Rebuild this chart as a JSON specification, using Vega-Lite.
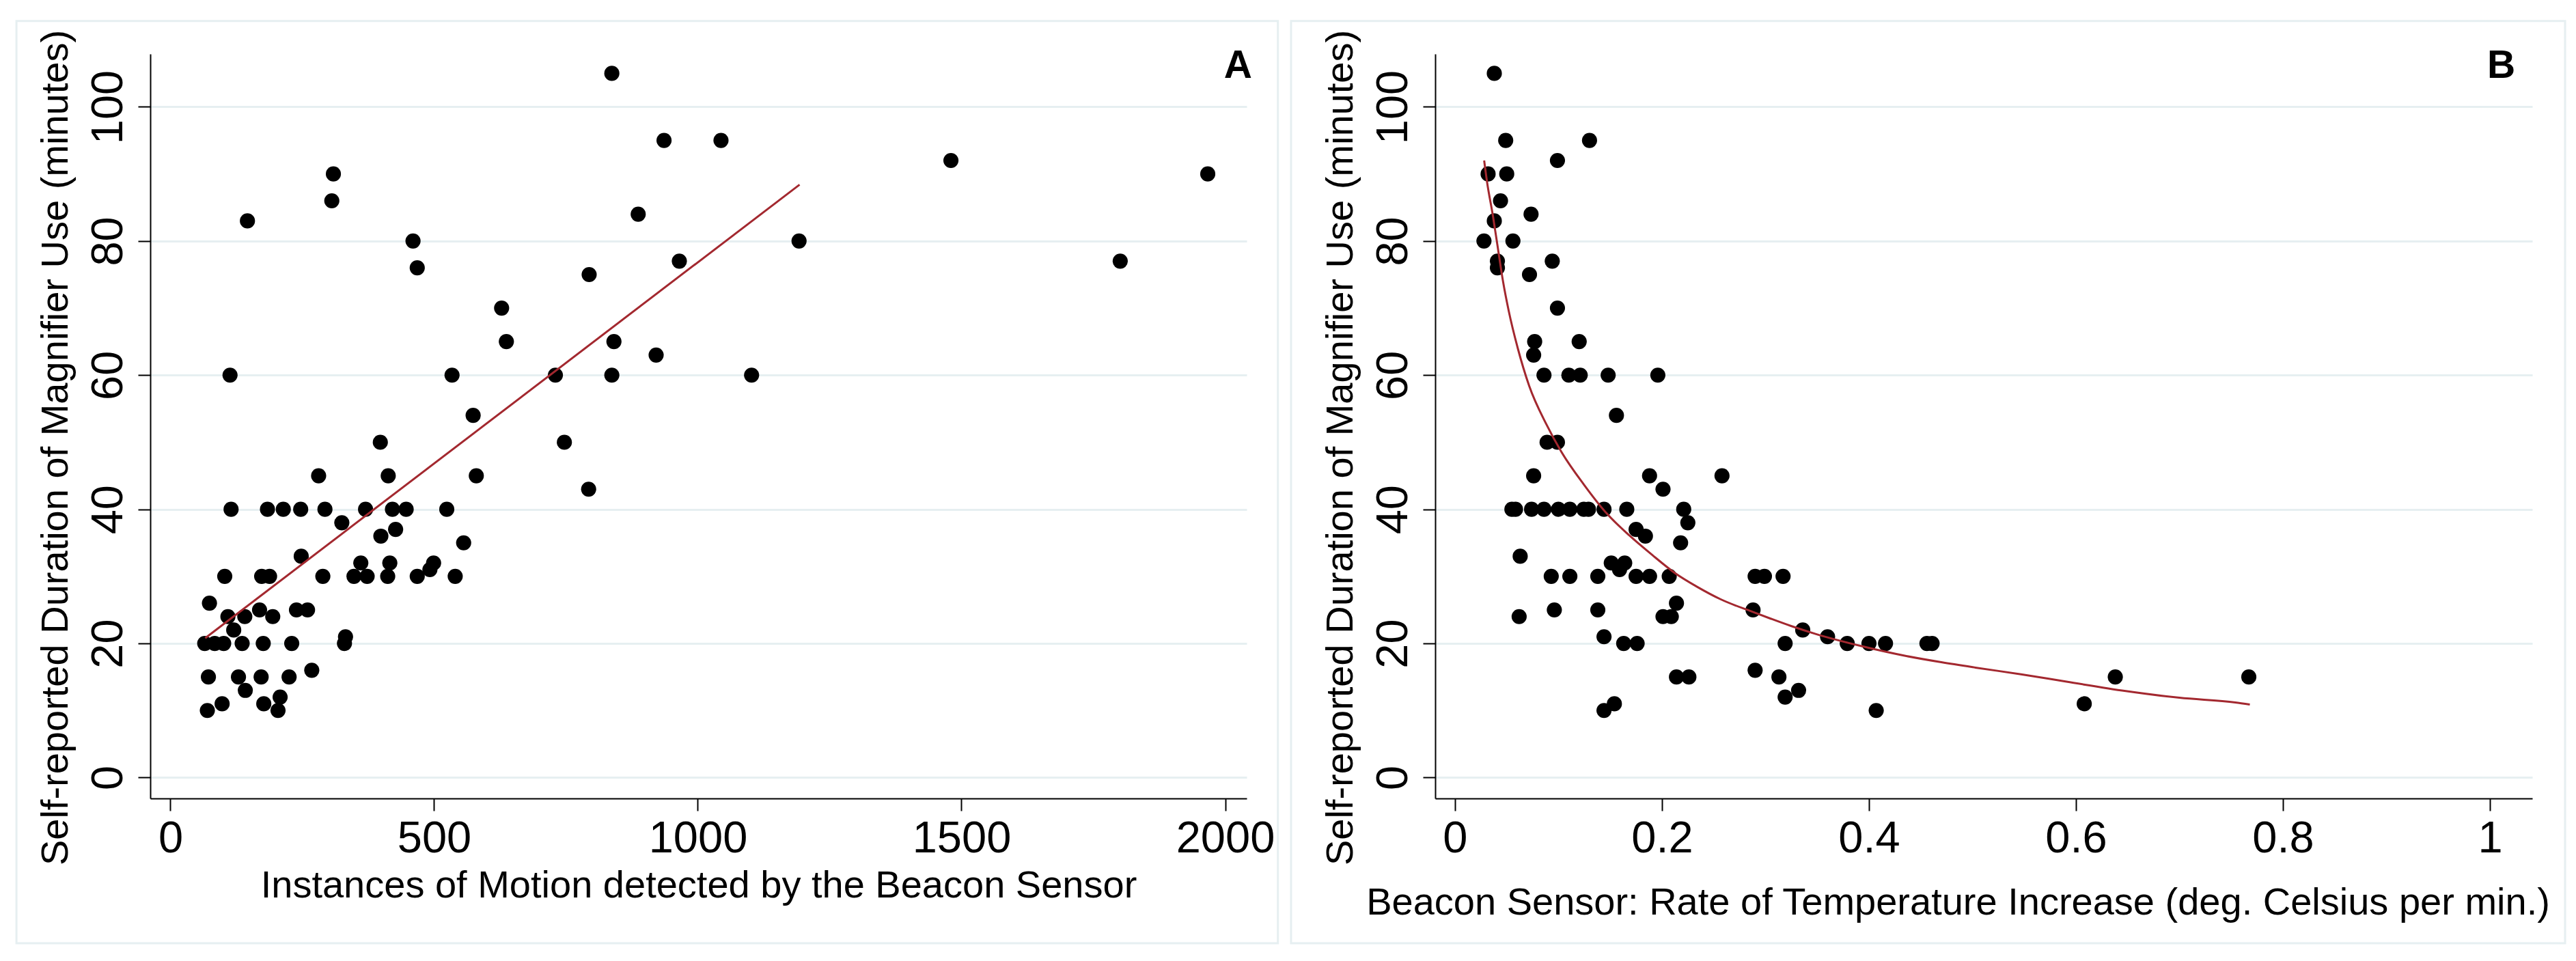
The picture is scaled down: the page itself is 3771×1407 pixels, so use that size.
{
  "$schema": "https://vega.github.io/schema/vega-lite/v6.json",
  "background": "white",
  "padding": {"left": 22, "top": 29, "right": 0, "bottom": 0},
  "autosize": {"type": "pad"},
  "spacing": 15,
  "config": {
    "view": {"stroke": null},
    "font": "Liberation Sans",
    "axis": {
      "domainColor": "black",
      "domainWidth": 2,
      "tickColor": "black",
      "tickWidth": 2,
      "tickSize": 18,
      "labelFont": "Liberation Sans",
      "labelFontSize": 65,
      "labelColor": "black",
      "titleFont": "Liberation Sans",
      "titleFontSize": 56,
      "titleFontWeight": "normal",
      "titleColor": "black",
      "gridColor": "#e6eff1",
      "gridWidth": 3
    },
    "axisX": {
      "grid": false,
      "labelAngle": 0,
      "labelPadding": 9,
      "labelBaseline": "top",
      "titleBaseline": "alphabetic",
      "titleY": 144
    },
    "axisY": {
      "grid": true,
      "labelAngle": 270,
      "labelAlign": "center",
      "labelBaseline": "alphabetic",
      "labelPadding": 24,
      "titleAngle": 270,
      "titleAlign": "center",
      "titleBaseline": "alphabetic",
      "titleX": -122,
      "titleY": 576
    }
  },
  "datasets": {
    "motion": [
      {"motion": 837, "minutes": 105}, {"motion": 936, "minutes": 95}, {"motion": 1044, "minutes": 95},
      {"motion": 1480, "minutes": 92}, {"motion": 1967, "minutes": 90}, {"motion": 309, "minutes": 90},
      {"motion": 306, "minutes": 86}, {"motion": 146, "minutes": 83}, {"motion": 887, "minutes": 84},
      {"motion": 460, "minutes": 80}, {"motion": 1192, "minutes": 80}, {"motion": 1801, "minutes": 77},
      {"motion": 965, "minutes": 77}, {"motion": 468, "minutes": 76}, {"motion": 794, "minutes": 75},
      {"motion": 628, "minutes": 70}, {"motion": 637, "minutes": 65}, {"motion": 841, "minutes": 65},
      {"motion": 921, "minutes": 63}, {"motion": 113, "minutes": 60}, {"motion": 534, "minutes": 60},
      {"motion": 730, "minutes": 60}, {"motion": 837, "minutes": 60}, {"motion": 1102, "minutes": 60},
      {"motion": 747, "minutes": 50}, {"motion": 793, "minutes": 43},
      {"motion": 574, "minutes": 54}, {"motion": 398, "minutes": 50}, {"motion": 281, "minutes": 45},
      {"motion": 413, "minutes": 45}, {"motion": 580, "minutes": 45},
      {"motion": 115, "minutes": 40}, {"motion": 184, "minutes": 40}, {"motion": 214, "minutes": 40},
      {"motion": 247, "minutes": 40}, {"motion": 293, "minutes": 40}, {"motion": 370, "minutes": 40},
      {"motion": 421, "minutes": 40}, {"motion": 447, "minutes": 40}, {"motion": 524, "minutes": 40},
      {"motion": 325, "minutes": 38}, {"motion": 427, "minutes": 37}, {"motion": 399, "minutes": 36},
      {"motion": 556, "minutes": 35}, {"motion": 248, "minutes": 33}, {"motion": 361, "minutes": 32},
      {"motion": 416, "minutes": 32}, {"motion": 499, "minutes": 32}, {"motion": 492, "minutes": 31},
      {"motion": 103, "minutes": 30}, {"motion": 173, "minutes": 30}, {"motion": 188, "minutes": 30},
      {"motion": 289, "minutes": 30}, {"motion": 348, "minutes": 30}, {"motion": 373, "minutes": 30},
      {"motion": 412, "minutes": 30}, {"motion": 468, "minutes": 30}, {"motion": 540, "minutes": 30},
      {"motion": 74, "minutes": 26}, {"motion": 169, "minutes": 25}, {"motion": 239, "minutes": 25},
      {"motion": 260, "minutes": 25}, {"motion": 109, "minutes": 24}, {"motion": 141, "minutes": 24},
      {"motion": 194, "minutes": 24}, {"motion": 120, "minutes": 22}, {"motion": 332, "minutes": 21},
      {"motion": 65, "minutes": 20}, {"motion": 84, "minutes": 20}, {"motion": 101, "minutes": 20},
      {"motion": 136, "minutes": 20}, {"motion": 176, "minutes": 20}, {"motion": 230, "minutes": 20},
      {"motion": 330, "minutes": 20}, {"motion": 268, "minutes": 16}, {"motion": 72, "minutes": 15},
      {"motion": 129, "minutes": 15}, {"motion": 172, "minutes": 15}, {"motion": 225, "minutes": 15},
      {"motion": 142, "minutes": 13}, {"motion": 208, "minutes": 12}, {"motion": 98, "minutes": 11},
      {"motion": 177, "minutes": 11}, {"motion": 70, "minutes": 10}, {"motion": 204, "minutes": 10}
    ],
    "fitMotion": [
      {"motion": 66, "minutes": 20.8},
      {"motion": 1193, "minutes": 88.4}
    ],
    "temp": [
      {"rate": 0.038, "minutes": 105}, {"rate": 0.049, "minutes": 95}, {"rate": 0.130, "minutes": 95},
      {"rate": 0.099, "minutes": 92}, {"rate": 0.032, "minutes": 90}, {"rate": 0.050, "minutes": 90},
      {"rate": 0.044, "minutes": 86}, {"rate": 0.038, "minutes": 83}, {"rate": 0.0735, "minutes": 84},
      {"rate": 0.028, "minutes": 80}, {"rate": 0.056, "minutes": 80}, {"rate": 0.041, "minutes": 77},
      {"rate": 0.041, "minutes": 76}, {"rate": 0.094, "minutes": 77}, {"rate": 0.072, "minutes": 75},
      {"rate": 0.099, "minutes": 70}, {"rate": 0.077, "minutes": 65}, {"rate": 0.120, "minutes": 65},
      {"rate": 0.076, "minutes": 63}, {"rate": 0.086, "minutes": 60}, {"rate": 0.110, "minutes": 60},
      {"rate": 0.121, "minutes": 60}, {"rate": 0.148, "minutes": 60}, {"rate": 0.196, "minutes": 60},
      {"rate": 0.156, "minutes": 54}, {"rate": 0.089, "minutes": 50}, {"rate": 0.099, "minutes": 50},
      {"rate": 0.076, "minutes": 45}, {"rate": 0.188, "minutes": 45}, {"rate": 0.258, "minutes": 45},
      {"rate": 0.201, "minutes": 43},
      {"rate": 0.055, "minutes": 40}, {"rate": 0.0585, "minutes": 40}, {"rate": 0.074, "minutes": 40},
      {"rate": 0.086, "minutes": 40}, {"rate": 0.100, "minutes": 40}, {"rate": 0.111, "minutes": 40},
      {"rate": 0.1245, "minutes": 40}, {"rate": 0.129, "minutes": 40}, {"rate": 0.144, "minutes": 40},
      {"rate": 0.166, "minutes": 40}, {"rate": 0.221, "minutes": 40},
      {"rate": 0.225, "minutes": 38}, {"rate": 0.175, "minutes": 37}, {"rate": 0.184, "minutes": 36},
      {"rate": 0.218, "minutes": 35}, {"rate": 0.063, "minutes": 33}, {"rate": 0.151, "minutes": 32},
      {"rate": 0.164, "minutes": 32}, {"rate": 0.159, "minutes": 31},
      {"rate": 0.093, "minutes": 30}, {"rate": 0.111, "minutes": 30}, {"rate": 0.138, "minutes": 30},
      {"rate": 0.175, "minutes": 30}, {"rate": 0.188, "minutes": 30}, {"rate": 0.207, "minutes": 30},
      {"rate": 0.290, "minutes": 30}, {"rate": 0.299, "minutes": 30}, {"rate": 0.317, "minutes": 30},
      {"rate": 0.062, "minutes": 24}, {"rate": 0.096, "minutes": 25}, {"rate": 0.138, "minutes": 25},
      {"rate": 0.214, "minutes": 26}, {"rate": 0.201, "minutes": 24}, {"rate": 0.209, "minutes": 24},
      {"rate": 0.288, "minutes": 25}, {"rate": 0.144, "minutes": 21}, {"rate": 0.163, "minutes": 20},
      {"rate": 0.176, "minutes": 20}, {"rate": 0.319, "minutes": 20}, {"rate": 0.214, "minutes": 15},
      {"rate": 0.226, "minutes": 15}, {"rate": 0.290, "minutes": 16}, {"rate": 0.313, "minutes": 15},
      {"rate": 0.319, "minutes": 12}, {"rate": 0.154, "minutes": 11}, {"rate": 0.144, "minutes": 10},
      {"rate": 0.336, "minutes": 22}, {"rate": 0.360, "minutes": 21}, {"rate": 0.379, "minutes": 20},
      {"rate": 0.400, "minutes": 20}, {"rate": 0.416, "minutes": 20}, {"rate": 0.456, "minutes": 20},
      {"rate": 0.461, "minutes": 20}, {"rate": 0.332, "minutes": 13}, {"rate": 0.407, "minutes": 10},
      {"rate": 0.608, "minutes": 11}, {"rate": 0.638, "minutes": 15}, {"rate": 0.767, "minutes": 15}
    ],
    "fitTemp": [
      {"rate": 0.0282, "minutes": 92.0}, {"rate": 0.031, "minutes": 88.8}, {"rate": 0.0365, "minutes": 83.9},
      {"rate": 0.0409, "minutes": 79.5}, {"rate": 0.0464, "minutes": 74.0}, {"rate": 0.0519, "minutes": 69.6},
      {"rate": 0.0607, "minutes": 64.0}, {"rate": 0.0717, "minutes": 58.4}, {"rate": 0.0882, "minutes": 52.7},
      {"rate": 0.1027, "minutes": 48.6}, {"rate": 0.1245, "minutes": 43.7}, {"rate": 0.1465, "minutes": 39.4},
      {"rate": 0.1685, "minutes": 36.1}, {"rate": 0.1905, "minutes": 33.2}, {"rate": 0.2125, "minutes": 30.5},
      {"rate": 0.2345, "minutes": 28.4}, {"rate": 0.2565, "minutes": 26.6}, {"rate": 0.2895, "minutes": 24.6},
      {"rate": 0.305, "minutes": 23.7}, {"rate": 0.3247, "minutes": 22.6}, {"rate": 0.3489, "minutes": 21.4},
      {"rate": 0.3929, "minutes": 19.6}, {"rate": 0.4369, "minutes": 18.1}, {"rate": 0.4699, "minutes": 17.2},
      {"rate": 0.5029, "minutes": 16.4}, {"rate": 0.5469, "minutes": 15.4}, {"rate": 0.5909, "minutes": 14.3},
      {"rate": 0.6481, "minutes": 12.9}, {"rate": 0.70, "minutes": 11.9}, {"rate": 0.754, "minutes": 11.2},
      {"rate": 0.768, "minutes": 10.9}
    ]
  },
  "hconcat": [
    {
      "width": 1605,
      "height": 1090,
      "layer": [
        {
          "data": {"values": [{}]},
          "mark": {"type": "rect", "filled": false, "stroke": "#e6eff1", "strokeWidth": 3},
          "encoding": {
            "x": {"datum": -292, "type": "quantitative"},
            "x2": {"datum": 2100},
            "y": {"datum": 112.8, "type": "quantitative"},
            "y2": {"datum": -24.7}
          }
        },
        {
          "data": {"name": "motion"},
          "mark": {"type": "circle", "size": 490, "color": "black", "opacity": 1},
          "encoding": {
            "x": {
              "field": "motion",
              "type": "quantitative",
              "scale": {"domain": [-38.2, 2040.8], "nice": false, "zero": false},
              "axis": {"values": [0, 500, 1000, 1500, 2000], "format": "d", "title": "Instances of Motion detected by the Beacon Sensor"}
            },
            "y": {
              "field": "minutes",
              "type": "quantitative",
              "scale": {"domain": [-3.11, 107.89], "nice": false, "zero": false},
              "axis": {"values": [0, 20, 40, 60, 80, 100], "title": "Self-reported Duration of Magnifier Use (minutes)"}
            }
          }
        },
        {
          "data": {"name": "fitMotion"},
          "mark": {"type": "line", "color": "#a3282f", "strokeWidth": 3},
          "encoding": {
            "x": {"field": "motion", "type": "quantitative"},
            "y": {"field": "minutes", "type": "quantitative"}
          }
        },
        {
          "data": {"values": [{}]},
          "mark": {"type": "text", "text": "A", "font": "Liberation Sans", "fontSize": 57, "fontWeight": "bold", "align": "right", "baseline": "alphabetic", "color": "black"},
          "encoding": {
            "x": {"datum": 2051, "type": "quantitative"},
            "y": {"datum": 104.3, "type": "quantitative"}
          }
        }
      ]
    },
    {
      "width": 1606,
      "height": 1090,
      "layer": [
        {
          "data": {"values": [{}]},
          "mark": {"type": "rect", "filled": false, "stroke": "#e6eff1", "strokeWidth": 3},
          "encoding": {
            "x": {"datum": -0.1584, "type": "quantitative"},
            "x2": {"datum": 1.0726},
            "y": {"datum": 112.8, "type": "quantitative"},
            "y2": {"datum": -24.7}
          }
        },
        {
          "data": {"name": "temp"},
          "mark": {"type": "circle", "size": 490, "color": "black", "opacity": 1},
          "encoding": {
            "x": {
              "field": "rate",
              "type": "quantitative",
              "scale": {"domain": [-0.0191, 1.0409], "nice": false, "zero": false},
              "axis": {
                "values": [0, 0.2, 0.4, 0.6, 0.8, 1],
                "format": "~g",
                "title": "Beacon Sensor: Rate of Temperature Increase (deg. Celsius per min.)",
                "titleX": 765,
                "titleY": 169
              }
            },
            "y": {
              "field": "minutes",
              "type": "quantitative",
              "scale": {"domain": [-3.11, 107.89], "nice": false, "zero": false},
              "axis": {"values": [0, 20, 40, 60, 80, 100], "title": "Self-reported Duration of Magnifier Use (minutes)"}
            }
          }
        },
        {
          "data": {"name": "fitTemp"},
          "mark": {"type": "line", "color": "#a3282f", "strokeWidth": 3, "interpolate": "monotone"},
          "encoding": {
            "x": {"field": "rate", "type": "quantitative"},
            "y": {"field": "minutes", "type": "quantitative"}
          }
        },
        {
          "data": {"values": [{}]},
          "mark": {"type": "text", "text": "B", "font": "Liberation Sans", "fontSize": 57, "fontWeight": "bold", "align": "right", "baseline": "alphabetic", "color": "black"},
          "encoding": {
            "x": {"datum": 1.0245, "type": "quantitative"},
            "y": {"datum": 104.3, "type": "quantitative"}
          }
        }
      ]
    }
  ]
}
